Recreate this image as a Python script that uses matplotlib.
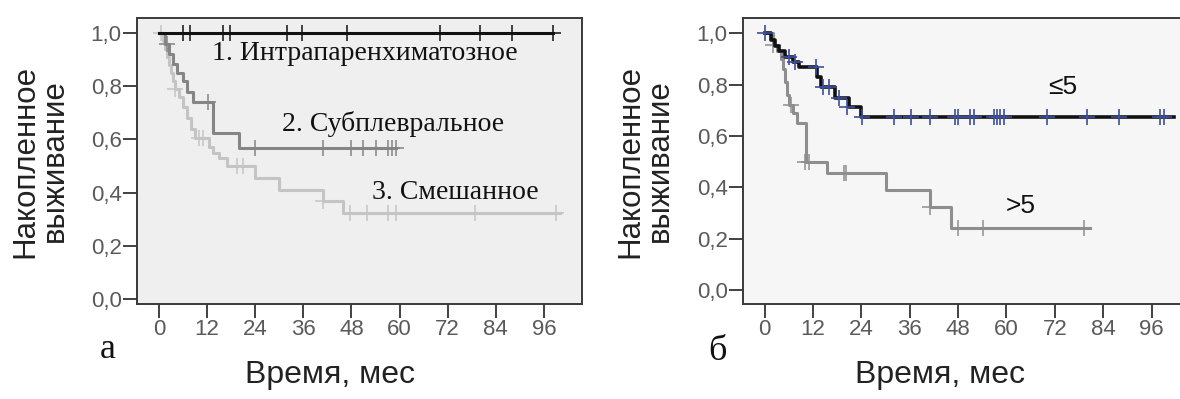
import matplotlib
matplotlib.use("Agg")
import matplotlib.pyplot as plt
import numpy as np

# ---------------- DATA ----------------
# Panel a
g1_t = [0, 98.3]
g1_s = [1.0, 1.0]
g1_cens_t = [6.1, 7.7, 16.0, 17.7, 31.9, 35.6, 46.8, 70.1, 80.1, 88.0, 98.3]
g1_cens_s = [1.0] * 11

g2_t = [0, 1.5, 2.5, 3.5, 4.5, 6.0, 7.0, 8.5, 13.5, 20.0, 59.0]
g2_s = [1.0, 0.96, 0.92, 0.885, 0.85, 0.82, 0.78, 0.74, 0.625, 0.567, 0.567]
g2_cens_t = [2.0, 12.2, 24.0, 41.0, 48.0, 51.0, 54.0, 57.0, 58.0, 59.0]
g2_cens_s = [0.96, 0.74, 0.567, 0.567, 0.567, 0.567, 0.567, 0.567, 0.567, 0.567]

g3_t = [0, 1.0, 1.5, 2.0, 2.5, 3.0, 3.5, 4.0, 5.0, 6.0, 7.0, 8.0, 9.0,
        12.5, 13.5, 15.0, 17.0, 24.0, 30.0, 41.0, 46.0, 100.0]
g3_s = [1.0, 0.97, 0.94, 0.91, 0.88, 0.85, 0.82, 0.79, 0.76, 0.72, 0.68, 0.64, 0.605,
        0.57, 0.55, 0.53, 0.50, 0.455, 0.41, 0.37, 0.322, 0.322]
g3_cens_t = [0.5, 4.0, 10.0, 11.0, 19.4, 21.0, 41.0, 47.7, 52.0, 57.0, 59.0, 78.8, 99.0]
g3_cens_s = [1.0, 0.79, 0.605, 0.605, 0.50, 0.50, 0.37, 0.322, 0.322, 0.322, 0.322, 0.322, 0.322]

labels_a = ["1. Интрапаренхиматозное", "2. Субплевральное", "3. Смешанное"]

# Panel b
le5_t = [0, 1.5, 2.5, 3.5, 5.0, 7.0, 8.5, 13.0, 14.0, 17.5, 21.0, 24.0, 101.5]
le5_s = [1.0, 0.975, 0.95, 0.93, 0.91, 0.89, 0.87, 0.83, 0.79, 0.75, 0.715, 0.676, 0.676]
le5_cens_t = [0.0, 6.0, 7.5, 12.7, 14.5, 16.0, 18.5, 20.5,
              24.2, 32.0, 36.2, 41.1, 47.3, 48.1, 51.0, 51.9, 56.8, 57.6, 58.5, 59.3,
              70.1, 80.0, 87.8, 98.2, 99.0]
le5_cens_s = [1.0, 0.91, 0.89, 0.87, 0.79, 0.79, 0.75, 0.715] + [0.676] * 17

gt5_t = [0, 2.0, 3.0, 4.0, 4.5, 5.0, 5.5, 6.0, 7.0, 8.0, 10.2, 15.5, 30.0, 41.0, 46.2, 80.8]
gt5_s = [1.0, 0.955, 0.93, 0.90, 0.86, 0.81, 0.76, 0.72, 0.69, 0.65, 0.50, 0.455, 0.39,
         0.325, 0.24, 0.24]
gt5_cens_t = [2.0, 6.5, 10.0, 11.0, 19.6, 20.3, 41.1, 48.1, 54.2, 79.2]
gt5_cens_s = [0.955, 0.72, 0.50, 0.50, 0.455, 0.455, 0.325, 0.24, 0.24, 0.24]

labels_b = ["≤5", ">5"]

yticks = [0.0, 0.2, 0.4, 0.6, 0.8, 1.0]
ytick_labels = ["0,0", "0,2", "0,4", "0,6", "0,8", "1,0"]
xticks = [0, 12, 24, 36, 48, 60, 72, 84, 96]
ylabel = "Накопленное\nвыживание"
xlabel = "Время, мес"
panel_letters = ["а", "б"]

# ---------------- FIGURE ----------------
W, H = 1180, 399
fig = plt.figure(figsize=(W / 100, H / 100), dpi=100)
fig.patch.set_facecolor("white")


def fx(px):
    return px / W


def fy(py):
    return 1 - py / H


sans = ["Liberation Sans", "DejaVu Sans"]
serif = ["Liberation Serif", "DejaVu Serif"]

axA = fig.add_axes([fx(137), fy(304), fx(582 - 137), (304 - 18) / H])
axB = fig.add_axes([fx(743), fy(304), fx(1183 - 743), (304 - 18) / H])

axA.set_facecolor("#efefef")
axB.set_facecolor("#f6f6f6")

for ax in (axA, axB):
    for sp in ax.spines.values():
        sp.set_color("#3a3a3a")
        sp.set_linewidth(1.4)
    ax.set_yticks(yticks)
    ax.set_yticklabels(ytick_labels)
    ax.set_xticks(xticks)
    ax.tick_params(axis="both", direction="out", length=10, width=1.3, color="#333333",
                   labelsize=16, labelcolor="#5a5a5a", pad=1)
    for lab in ax.get_xticklabels() + ax.get_yticklabels():
        lab.set_family(sans)
axB.spines["right"].set_visible(False)

axA.set_xlim(-5.49, 105.5)
axA.set_ylim(-0.0188, 1.0564)
axB.set_xlim(-5.36, 103.8)
axB.set_ylim(-0.0546, 1.0604)

lw = 2.2
ms = 12
# Panel a curves
axA.step(g3_t, g3_s, where="post", color="#c4c4c4", lw=lw, zorder=3)
axA.plot(g3_cens_t, g3_cens_s, "+", color="#c4c4c4", ms=ms, mew=1.1, zorder=3)
axA.step(g2_t, g2_s, where="post", color="#858585", lw=lw, zorder=4)
axA.plot(g2_cens_t, g2_cens_s, "+", color="#858585", ms=ms, mew=1.1, zorder=4)
axA.step(g1_t, g1_s, where="post", color="#111111", lw=lw, zorder=5)
axA.plot(g1_cens_t, g1_cens_s, "+", color="#111111", ms=ms, mew=1.1, zorder=5)

# Panel b curves
axB.step(gt5_t, gt5_s, where="post", color="#8e8e8e", lw=lw, zorder=3)
axB.plot(gt5_cens_t, gt5_cens_s, "+", color="#8e8e8e", ms=ms, mew=1.1, zorder=3)
axB.step(le5_t, le5_s, where="post", color="#111111", lw=lw + 0.4, zorder=4)
axB.plot(le5_cens_t, le5_cens_s, "+", color="#3d4f9c", ms=ms, mew=1.2, zorder=5)

# annotations (positions in pixels of the figure)
ann_kw = dict(family=serif, fontsize=20, ha="left", va="center", color="#111111")
fig.text(fx(212), fy(53), labels_a[0], **ann_kw)
fig.text(fx(282), fy(124), labels_a[1], **ann_kw)
fig.text(fx(372), fy(193), labels_a[2], **ann_kw)
fig.text(fx(1063), fy(87), labels_b[0], family=sans, fontsize=19, ha="center", va="center",
         color="#111111")
fig.text(fx(1021), fy(206), labels_b[1], family=sans, fontsize=19, ha="center", va="center",
         color="#111111")

# axis labels
for cx in (40, 645):
    fig.text(fx(cx), fy(161), ylabel, family=sans, fontsize=22.5, rotation=90,
             ha="center", va="center", multialignment="center", linespacing=1.0,
             color="#222222")
fig.text(fx(330), fy(375), xlabel, family=sans, fontsize=23, ha="center", va="center",
         color="#222222")
fig.text(fx(940), fy(375), xlabel, family=sans, fontsize=23, ha="center", va="center",
         color="#222222")

fig.text(fx(108), fy(350), panel_letters[0], family=serif, fontsize=26, ha="center",
         va="center", color="#111111")
fig.text(fx(717), fy(352), panel_letters[1], family=serif, fontsize=26, ha="center",
         va="center", color="#111111")

fig.savefig("out.png", dpi=100, facecolor="white")
